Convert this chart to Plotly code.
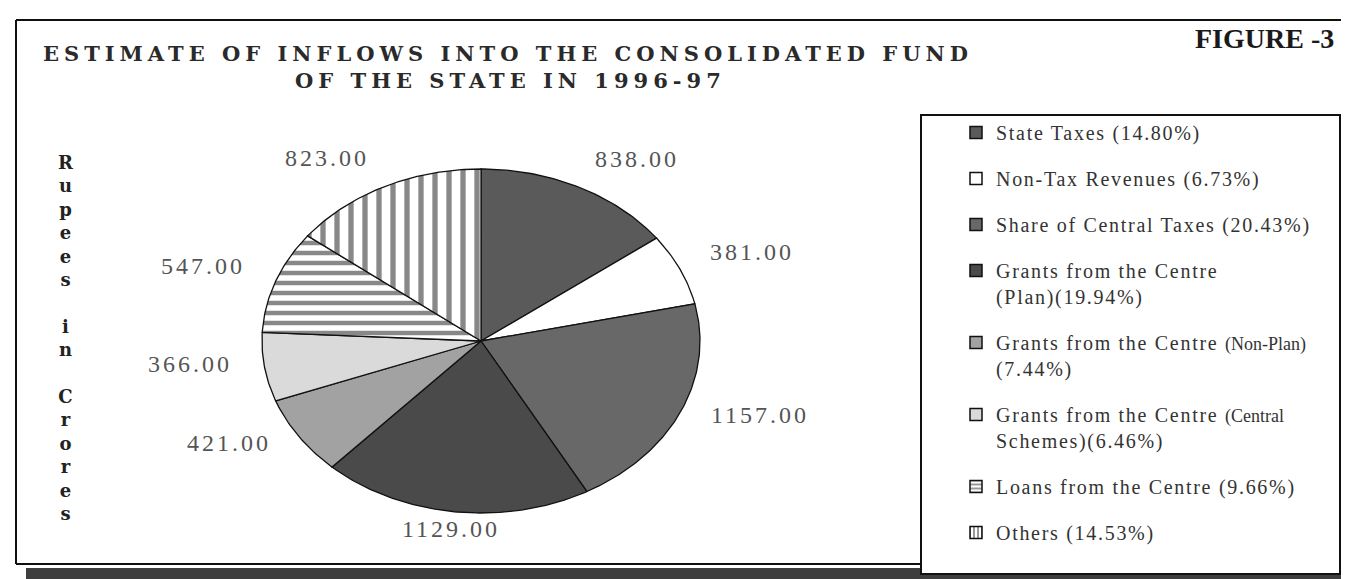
import numpy as np
import plotly.graph_objects as go

# ---------------- data ----------------
categories = [
    "State Taxes",
    "Non-Tax Revenues",
    "Share of Central Taxes",
    "Grants from the Centre (Plan)",
    "Grants from the Centre (Non-Plan)",
    "Grants from the Centre (Central Schemes)",
    "Loans from the Centre",
    "Others",
]
values = [838, 381, 1157, 1129, 421, 366, 547, 823]
legend_labels = [
    "State Taxes (14.80%)",
    "Non-Tax Revenues (6.73%)",
    "Share of Central Taxes (20.43%)",
    "Grants from the Centre<br>(Plan)(19.94%)",
    "Grants from the Centre <span style='font-size:18px;letter-spacing:0px'>(Non-Plan)</span><br>(7.44%)",
    "Grants from the Centre <span style='font-size:18px;letter-spacing:0px'>(Central</span><br>Schemes)(6.46%)",
    "Loans from the Centre (9.66%)",
    "Others (14.53%)",
]
title_lines = ["ESTIMATE OF INFLOWS INTO THE CONSOLIDATED FUND", "OF THE STATE IN 1996-97"]
figure_label = "FIGURE -3"
axis_label = "Rupees in Crores"

# ---------------- style ----------------
colors = ["#5a5a5a", "#ffffff", "#686868", "#4a4a4a", "#a2a2a2", "#dadada", "#ffffff", "#ffffff"]
patterns = ["", "", "", "", "", "", "-", "|"]
pat_size = [8, 8, 8, 8, 8, 8, 10, 14]
pat_sol = [0.3, 0.3, 0.3, 0.3, 0.3, 0.3, 0.45, 0.38]
CX, CY, RX, RY = 473, 333, 219, 172
W, H = 1349, 579
SERIF = "Liberation Serif"
YS = -7  # vertical text centring correction

fig = go.Figure()
total = float(sum(values))
start = 0.0
for i, v in enumerate(values):
    frac = v / total
    t = np.linspace(start, start + frac, max(8, int(frac * 500))) * 2 * np.pi
    xs = np.concatenate([[CX], CX + RX * np.sin(t), [CX]])
    ys = np.concatenate([[CY], CY - RY * np.cos(t), [CY]])
    fp = dict(shape=patterns[i], fgcolor="#111111", bgcolor=colors[i],
              size=pat_size[i], solidity=pat_sol[i]) if patterns[i] else None
    fig.add_trace(go.Scatter(
        x=xs, y=ys, mode="lines", fill="toself", fillcolor=colors[i],
        fillpattern=fp, line=dict(color="#111111", width=1.3),
        name=categories[i], legendgroup=str(i), showlegend=False,
        hoverinfo="name",
    ))
    # value label outside the slice
    tm = (start + frac / 2) * 2 * np.pi
    k = 1.14
    lx = CX + RX * k * np.sin(tm)
    ly = CY - RY * k * np.cos(tm)
    s = np.sin(tm)
    if s > 0.3:
        xa = "left"
    elif s < -0.3:
        xa = "right"
    else:
        xa = "center"
    fig.add_annotation(
        x=lx, y=ly, xref="x", yref="y", xanchor=xa, yanchor="middle", yshift=-YS,
        text="<span style='letter-spacing:3px'>%.2f</span>" % v, showarrow=False,
        font=dict(family=SERIF, size=24, color="#555555"),
    )
    start += frac

# legend entries (square swatches)
for i, lab in enumerate(legend_labels):
    fig.add_trace(go.Bar(
        x=[None], y=[None],
        name="<span style='letter-spacing:1.7px'>" + lab + "</span>",
        legendgroup=str(i), showlegend=True,
        marker=dict(color=colors[i], line=dict(color="#111111", width=1.5),
                    pattern=dict(shape=patterns[i], fgcolor="black", bgcolor=colors[i],
                                 size=5, solidity=0.4)),
        hoverinfo="skip",
    ))

line_style = dict(color="#111111", width=2)
shapes = [
    # scan shadow at bottom
    dict(type="rect", xref="x", yref="y", x0=18, x1=W, y0=560, y1=H,
         fillcolor="#3e3e3e", line=dict(width=0), layer="below"),
    # main frame (top, left, bottom edges)
    dict(type="line", xref="x", yref="y", x0=8, x1=W, y0=12, y1=12, line=line_style, layer="below"),
    dict(type="line", xref="x", yref="y", x0=8, x1=8, y0=12, y1=556, line=line_style, layer="below"),
    dict(type="line", xref="x", yref="y", x0=8, x1=913, y0=556, y1=556, line=line_style, layer="below"),
    # legend shadow
    dict(type="rect", xref="x", yref="y", x0=1333, x1=1342, y0=112, y1=H,
         fillcolor="#2a2a2a", line=dict(width=0), layer="below"),
    # legend box
    dict(type="rect", xref="x", yref="y", x0=913, x1=1332, y0=107, y1=566,
         fillcolor="white", line=line_style, layer="below"),
]

for x, y, line in [(500, 53, title_lines[0]), (502, 80, title_lines[1])]:
    fig.add_annotation(x=x, y=y, xref="x", yref="y", yshift=8,
                       text="<b><span style='letter-spacing:5px'>" + line + "</span></b>",
                       showarrow=False, xanchor="center", yanchor="middle",
                       font=dict(family="DejaVu Serif", size=21, color="#2a2a2a"))

fig.add_annotation(x=1256, y=38, xref="x", yref="y", yshift=8,
                   text="<b>" + figure_label + "</b>",
                   showarrow=False, xanchor="center", yanchor="middle",
                   font=dict(family=SERIF, size=28, color="#1a1a1a"))

# vertical stacked axis label
words = axis_label.split(" ")
stack = "<br> <br>".join("<br>".join(list(w)) for w in words)
fig.add_annotation(x=58, y=338.5, xref="x", yref="y", yshift=9, text=stack, showarrow=False,
                   xanchor="center", yanchor="middle", align="center",
                   font=dict(family="DejaVu Serif", size=18, color="#222222", weight="bold"))

fig.update_layout(
    width=W, height=H,
    margin=dict(l=0, r=0, t=0, b=0),
    paper_bgcolor="white", plot_bgcolor="rgba(0,0,0,0)",
    xaxis=dict(range=[0, W], visible=False, fixedrange=True),
    yaxis=dict(range=[H, 0], visible=False, fixedrange=True),
    shapes=shapes,
    showlegend=True,
    legend=dict(x=948 / W, y=1 - 105 / H, xanchor="left", yanchor="top",
                bgcolor="rgba(0,0,0,0)", borderwidth=0,
                font=dict(family=SERIF, size=20, color="#333333"),
                traceorder="grouped", tracegroupgap=17, valign="top"),
)

fig.write_html("out.html")
